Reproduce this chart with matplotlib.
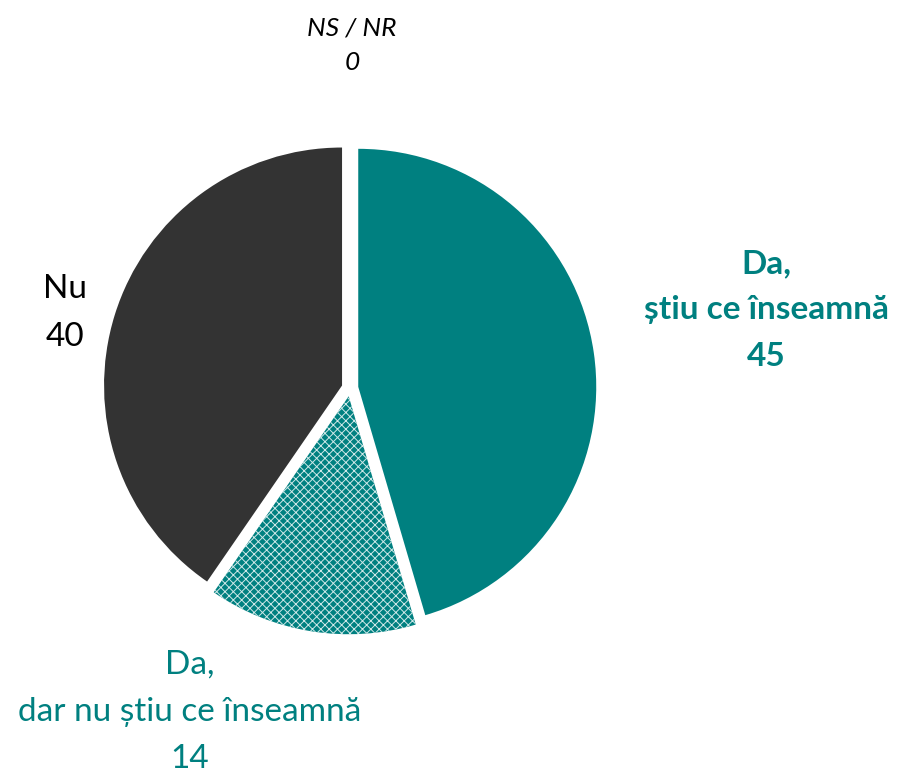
import matplotlib
matplotlib.use('Agg')
import matplotlib.pyplot as plt
import numpy as np

# ---------------- DATA ----------------
labels = ['Da,\nștiu ce înseamnă', 'Da,\ndar nu știu ce înseamnă', 'Nu', 'NS / NR']
values = [45, 14, 40, 0]
colors = ['#008080', '#008080', '#333333', '#bfbfbf']
hatches = [None, 'xxxx', None, None]

plt.rcParams['font.family'] = ['Lato', 'DejaVu Sans']
plt.rcParams['hatch.linewidth'] = 0.7

W, H = 898, 773
fig = plt.figure(figsize=(W / 100, H / 100), dpi=100)
ax = fig.add_axes([0, 0, 1, 1])

# pie centre and radius in pixels
CX, CY, R = 350, 388, 238

wedges, _ = ax.pie(values, colors=colors, startangle=90, counterclock=False,
                   explode=[0.035] * len(values), radius=1.0,
                   wedgeprops=dict(linewidth=0, edgecolor='white'))
for w, h in zip(wedges, hatches):
    if h:
        w.set_hatch(h)
        w.set_edgecolor('#cfe8e8')

ax.set_xlim(-CX / R, (W - CX) / R)
ax.set_ylim(-(H - CY) / R, CY / R)
ax.set_aspect('equal')
ax.axis('off')


def px(x, y):
    return ((x - CX) / R, (CY - y) / R)


fs = 24
teal = '#008080'
ax.text(*px(766, 310), labels[0] + '\n' + str(values[0]), ha='center', va='center',
        fontsize=fs, color=teal, fontweight='bold', linespacing=1.72)
ax.text(*px(190, 712), labels[1] + '\n' + str(values[1]), ha='center', va='center',
        fontsize=fs, color=teal, linespacing=1.72)
ax.text(*px(65, 313), labels[2] + '\n' + str(values[2]), ha='center', va='center',
        fontsize=fs, color='black', linespacing=1.72)
ax.text(*px(352, 45), labels[3] + '\n' + str(values[3]), ha='center', va='center',
        fontsize=19, color='black', style='italic', linespacing=1.6)

plt.savefig('out.png', dpi=100)
